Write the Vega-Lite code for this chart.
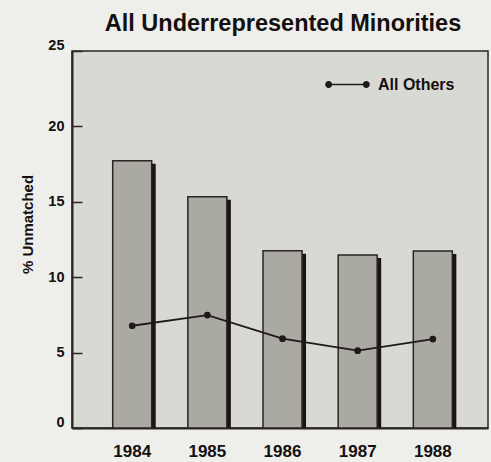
{
  "$schema": "https://vega.github.io/schema/vega-lite/v6.json",
  "width": 416,
  "height": 377,
  "autosize": {"type": "none"},
  "padding": {"left": 72, "top": 51, "right": 3, "bottom": 34},
  "background": "#eeeeea",
  "title": {
    "text": "All Underrepresented Minorities",
    "font": "Liberation Sans",
    "fontSize": 23.5,
    "fontWeight": "bold",
    "color": "#141010",
    "anchor": "middle",
    "dx": 3,
    "offset": 2
  },
  "config": {
    "font": "Liberation Sans",
    "view": {"fill": "#d9d9d3", "stroke": "#2a2424", "strokeWidth": 1.5}
  },
  "data": {
    "values": [
      {"year": "1984", "urm": 17.73, "others": 6.78, "series": "All Others"},
      {"year": "1985", "urm": 15.34, "others": 7.49, "series": "All Others"},
      {"year": "1986", "urm": 11.76, "others": 5.92, "series": "All Others"},
      {"year": "1987", "urm": 11.47, "others": 5.13, "series": "All Others"},
      {"year": "1988", "urm": 11.74, "others": 5.9, "series": "All Others"}
    ]
  },
  "encoding": {
    "x": {
      "field": "year",
      "type": "nominal",
      "scale": {"paddingInner": 0.481, "paddingOuter": 0.508, "align": 0.533},
      "axis": {
        "title": null,
        "labelAngle": 0,
        "ticks": false,
        "domain": true,
        "domainColor": "#2a2424",
        "domainWidth": 2,
        "labelFontSize": 17,
        "labelFontWeight": "bold",
        "labelColor": "#141010",
        "labelPadding": 15
      }
    }
  },
  "layer": [
    {
      "mark": {"type": "bar", "color": "#1a1414", "xOffset": 4, "yOffset": 3, "y2Offset": 0},
      "encoding": {
        "y": {"field": "urm", "type": "quantitative"},
        "y2": {"datum": 0}
      }
    },
    {
      "mark": {"type": "bar", "fill": "#aaaaa2", "stroke": "#2a2424", "strokeWidth": 1.5},
      "encoding": {
        "y": {
          "field": "urm",
          "type": "quantitative",
          "scale": {"domain": [0, 25], "nice": false},
          "axis": {
            "title": "% Unmatched",
            "titleFontSize": 15,
            "titleFontWeight": "bold",
            "titleColor": "#141010",
            "titleX": -37,
            "titleY": 173,
            "values": [0, 5, 10, 15, 20, 25],
            "grid": false,
            "domain": true,
            "domainColor": "#2a2424",
            "domainWidth": 2,
            "tickSize": -10,
            "tickColor": "#2a2424",
            "tickWidth": 1.5,
            "labelFontSize": 14.5,
            "labelFontWeight": "bold",
            "labelColor": "#141010",
            "labelPadding": 18,
            "labelOffset": {"condition": {"test": "datum.value == 0 || datum.value == 25", "value": -6}, "value": 0}
          }
        },
        "y2": {"datum": 0}
      }
    },
    {
      "mark": {"type": "line", "color": "#1e1a1a", "strokeWidth": 1.8},
      "encoding": {
        "y": {"field": "others", "type": "quantitative"}
      }
    },
    {
      "mark": {"type": "point", "filled": true, "shape": "circle", "size": 45, "opacity": 1},
      "encoding": {
        "y": {"field": "others", "type": "quantitative"},
        "color": {
          "field": "series",
          "type": "nominal",
          "scale": {"range": ["#1e1a1a"]},
          "legend": {
            "title": null,
            "orient": "none",
            "legendX": 253,
            "legendY": 11,
            "symbolType": "M-0.992,0 A0.156,0.156 0 1,1 -0.68,0 A0.156,0.156 0 1,1 -0.992,0 Z M0.68,0 A0.156,0.156 0 1,1 0.992,0 A0.156,0.156 0 1,1 0.68,0 Z M-0.836,-0.035 L0.836,-0.035 L0.836,0.035 L-0.836,0.035 Z",
            "symbolSize": 2025,
            "symbolStrokeWidth": 0,
            "labelFontSize": 16,
            "labelFontWeight": "bold",
            "labelColor": "#141010",
            "labelOffset": 8,
            "encode": {"symbols": {"update": {"fill": {"value": "#1e1a1a"}, "opacity": {"value": 1}}}}
          }
        }
      }
    }
  ]
}
